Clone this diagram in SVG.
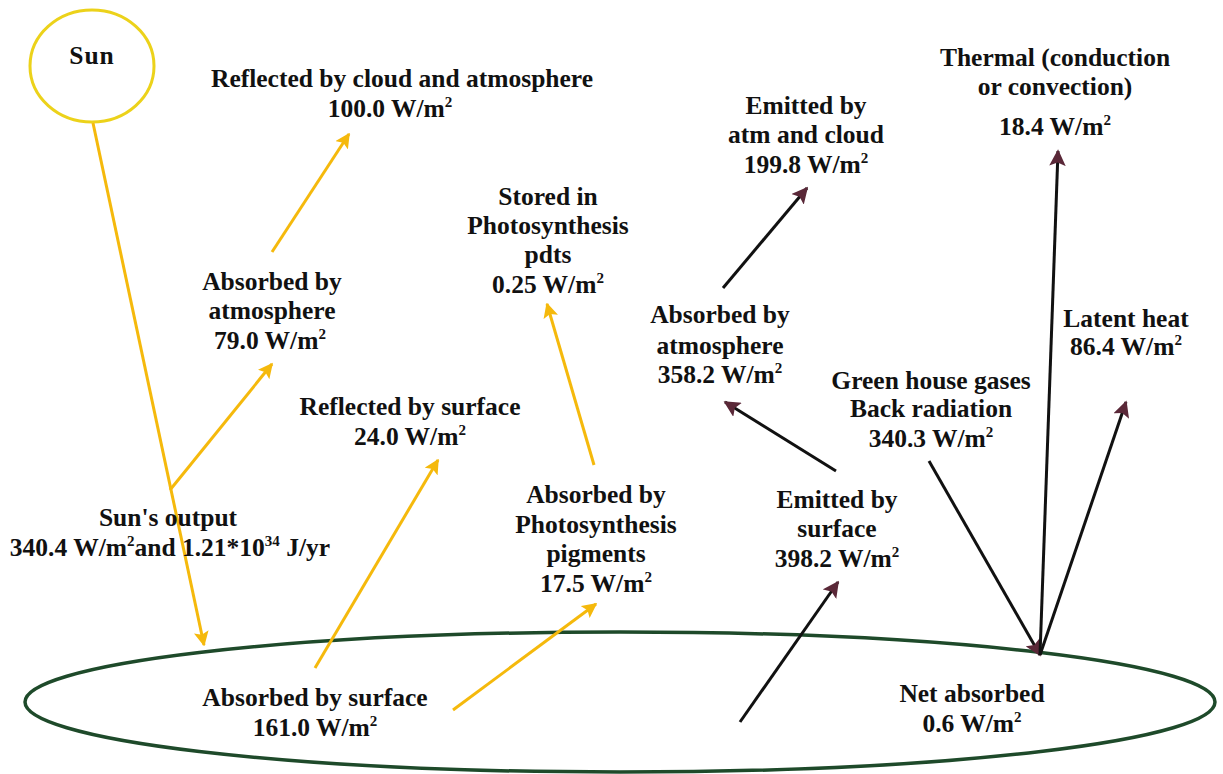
<svg xmlns="http://www.w3.org/2000/svg" width="1223" height="774" viewBox="0 0 1223 774">
<style>
text{font-family:"Liberation Serif","Times New Roman",serif;font-weight:bold;font-size:25.5px;fill:#111;text-anchor:middle}
.sup{font-size:15px}
.y{stroke:#f5b90c;stroke-width:3;fill:none;marker-end:url(#ay)}
.k{stroke:#111;stroke-width:3;fill:none;marker-end:url(#ak)}
</style>
<defs>
<marker id="ay" viewBox="0 0 10 10" refX="9" refY="5" markerWidth="5" markerHeight="5" orient="auto" markerUnits="strokeWidth">
<path d="M0,0 L10,5 L0,10 L2,5 z" fill="#f5b90c"/>
</marker>
<marker id="ak" viewBox="0 0 10 10" refX="9" refY="5" markerWidth="5.5" markerHeight="5.5" orient="auto" markerUnits="strokeWidth">
<path d="M0,0 L10,5 L0,10 L2,5 z" fill="#5a2838"/>
</marker>
</defs>
<rect width="1223" height="774" fill="#fff"/>
<g id="earth">
<ellipse cx="620" cy="702" rx="595" ry="70" fill="none" stroke="#1e4a2a" stroke-width="3.5"/>
</g>
<g id="sun">
<ellipse cx="92" cy="66" rx="62" ry="56" fill="#fff" stroke="#ecd21a" stroke-width="3"/>
<text x="92" y="64" font-size="30" letter-spacing="1">Sun</text>
</g>
<g id="connectors">
<line class="y" x1="93" y1="123" x2="204" y2="645"/>
<line class="y" x1="170" y1="490" x2="272" y2="364"/>
<line class="y" x1="272" y1="252" x2="349" y2="134"/>
<line class="y" x1="315" y1="668" x2="438" y2="460"/>
<line class="y" x1="453" y1="710" x2="596" y2="604"/>
<line class="y" x1="594" y1="465" x2="547" y2="304"/>
<line class="k" x1="740" y1="722" x2="838" y2="582"/>
<line class="k" x1="836" y1="471" x2="725" y2="402"/>
<line class="k" x1="723" y1="288" x2="807" y2="188"/>
<line class="k" x1="929" y1="461" x2="1040" y2="655"/>
<line class="k" x1="1040" y1="655" x2="1058" y2="151"/>
<line class="k" x1="1040" y1="655" x2="1126" y2="402"/>
</g>
<g id="reflected-cloud">
<text x="402" y="87">Reflected by cloud and atmosphere</text>
<text x="390" y="117">100.0 W/m<tspan class="sup" dy="-10">2</tspan></text>
</g>
<g id="absorbed-atm">
<text x="272" y="290">Absorbed by</text>
<text x="272" y="319">atmosphere</text>
<text x="270" y="349">79.0 W/m<tspan class="sup" dy="-10">2</tspan></text>
</g>
<g id="stored-ps">
<text x="548" y="205">Stored in</text>
<text x="548" y="234">Photosynthesis</text>
<text x="548" y="263">pdts</text>
<text x="548" y="293">0.25 W/m<tspan class="sup" dy="-10">2</tspan></text>
</g>
<g id="emitted-atm">
<text x="806" y="114">Emitted by</text>
<text x="806" y="143">atm and cloud</text>
<text x="806" y="173">199.8 W/m<tspan class="sup" dy="-10">2</tspan></text>
</g>
<g id="thermal">
<text x="1055" y="66">Thermal (conduction</text>
<text x="1055" y="95">or convection)</text>
<text x="1055" y="135">18.4 W/m<tspan class="sup" dy="-10">2</tspan></text>
</g>
<g id="absorbed-atm2">
<text x="720" y="323">Absorbed by</text>
<text x="720" y="354">atmosphere</text>
<text x="720" y="383">358.2 W/m<tspan class="sup" dy="-10">2</tspan></text>
</g>
<g id="latent">
<text x="1126" y="327">Latent heat</text>
<text x="1126" y="355">86.4 W/m<tspan class="sup" dy="-10">2</tspan></text>
</g>
<g id="greenhouse">
<text x="931" y="389">Green house gases</text>
<text x="931" y="417">Back radiation</text>
<text x="931" y="447">340.3 W/m<tspan class="sup" dy="-10">2</tspan></text>
</g>
<g id="reflected-surface">
<text x="410" y="415">Reflected by surface</text>
<text x="410" y="445">24.0 W/m<tspan class="sup" dy="-10">2</tspan></text>
</g>
<g id="absorbed-ps">
<text x="596" y="503">Absorbed by</text>
<text x="596" y="533">Photosynthesis</text>
<text x="596" y="562">pigments</text>
<text x="596" y="592">17.5 W/m<tspan class="sup" dy="-10">2</tspan></text>
</g>
<g id="emitted-surface">
<text x="837" y="508">Emitted by</text>
<text x="837" y="537">surface</text>
<text x="837" y="567">398.2 W/m<tspan class="sup" dy="-10">2</tspan></text>
</g>
<g id="sun-output">
<text x="168" y="526">Sun's output</text>
<text x="170" y="556">340.4 W/m<tspan class="sup" dy="-10">2</tspan><tspan dy="10">and 1.21*10</tspan><tspan class="sup" dy="-10">34</tspan><tspan dy="10"> J/yr</tspan></text>
</g>
<g id="absorbed-surface">
<text x="315" y="706">Absorbed by surface</text>
<text x="315" y="736">161.0 W/m<tspan class="sup" dy="-10">2</tspan></text>
</g>
<g id="net">
<text x="972" y="702">Net absorbed</text>
<text x="972" y="732">0.6 W/m<tspan class="sup" dy="-10">2</tspan></text>
</g>
</svg>
